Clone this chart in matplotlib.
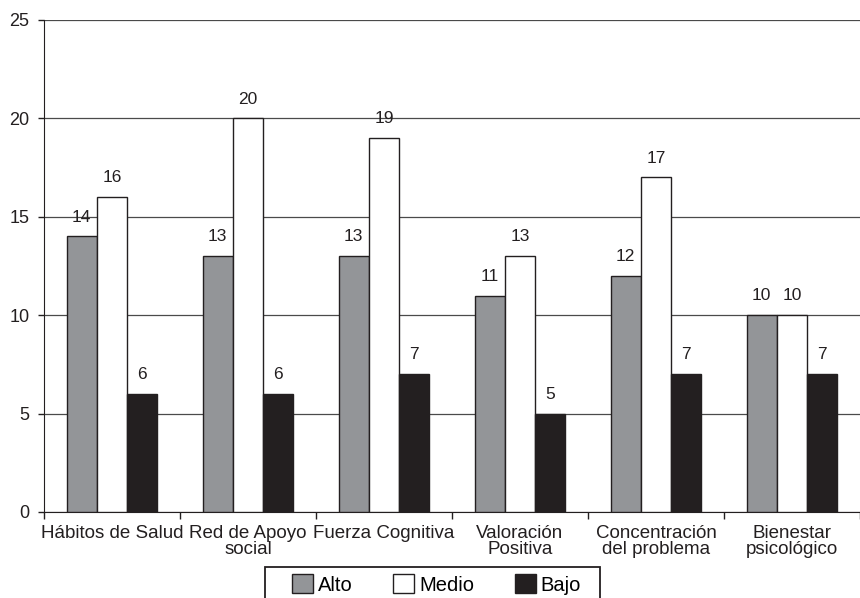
import matplotlib.pyplot as plt
from matplotlib.patches import Rectangle
import numpy as np

plt.rcParams['font.family'] = ['Liberation Sans', 'DejaVu Sans']

categorias = ['Hábitos de Salud', 'Red de Apoyo\nsocial', 'Fuerza Cognitiva',
              'Valoración\nPositiva', 'Concentración\ndel problema', 'Bienestar\npsicológico']
alto = [14, 13, 13, 11, 12, 10]
medio = [16, 20, 19, 13, 17, 10]
bajo = [6, 6, 7, 5, 7, 7]

fig = plt.figure(figsize=(8.6, 5.98), dpi=100)
ax = fig.add_axes([44 / 860, 86 / 598, 816 / 860, 492 / 598])

x = np.arange(len(categorias))
w = 0.222
series = [(alto, '#939598', 'Alto'), (medio, 'white', 'Medio'), (bajo, '#231f20', 'Bajo')]
for i, (vals, col, lab) in enumerate(series):
    pos = x + (i - 1) * w
    ax.bar(pos, vals, w, color=col, edgecolor='#231f20', linewidth=1, label=lab, zorder=3)
    for p, v in zip(pos, vals):
        ax.text(p, v + 0.6, str(v), ha='center', va='bottom', fontsize=12.5, color='#231f20')

ax.set_ylim(0, 25)
ax.set_xlim(-0.5, 5.424)
ax.set_yticks([0, 5, 10, 15, 20, 25])
ax.yaxis.grid(True, color='#4a4a4a', linewidth=0.9, zorder=0)
ax.set_axisbelow(True)

ax.set_xticks(x)
ax.set_xticklabels(categorias, fontsize=13.5, linespacing=1.0, color='#231f20')
ax.set_xticks(np.arange(-0.5, 6, 1), minor=True)
ax.tick_params(axis='x', which='major', length=0, pad=9)
ax.tick_params(axis='x', which='minor', length=5, direction='out', width=1, color='#231f20')
ax.tick_params(axis='y', labelsize=13, length=4.5, width=1, pad=6,
               color='#231f20', labelcolor='#231f20')

for s in ['top', 'right']:
    ax.spines[s].set_visible(False)
ax.spines['left'].set_color('#231f20')
ax.spines['bottom'].set_color('#231f20')

leg = fig.legend(loc='upper left', bbox_to_anchor=(292 / 860, 1 - 574 / 598), ncol=3,
                 fontsize=14.5, frameon=False,
                 handlelength=1.05, handleheight=1.1, handletextpad=0.25,
                 columnspacing=2.0, borderpad=0, borderaxespad=0)
fig.patches.append(Rectangle((265 / 860, -0.05), 335 / 860, 0.05 + 31 / 598,
                             transform=fig.transFigure, fill=False,
                             edgecolor='#231f20', linewidth=1.3))

fig.savefig('out.png', dpi=100)
